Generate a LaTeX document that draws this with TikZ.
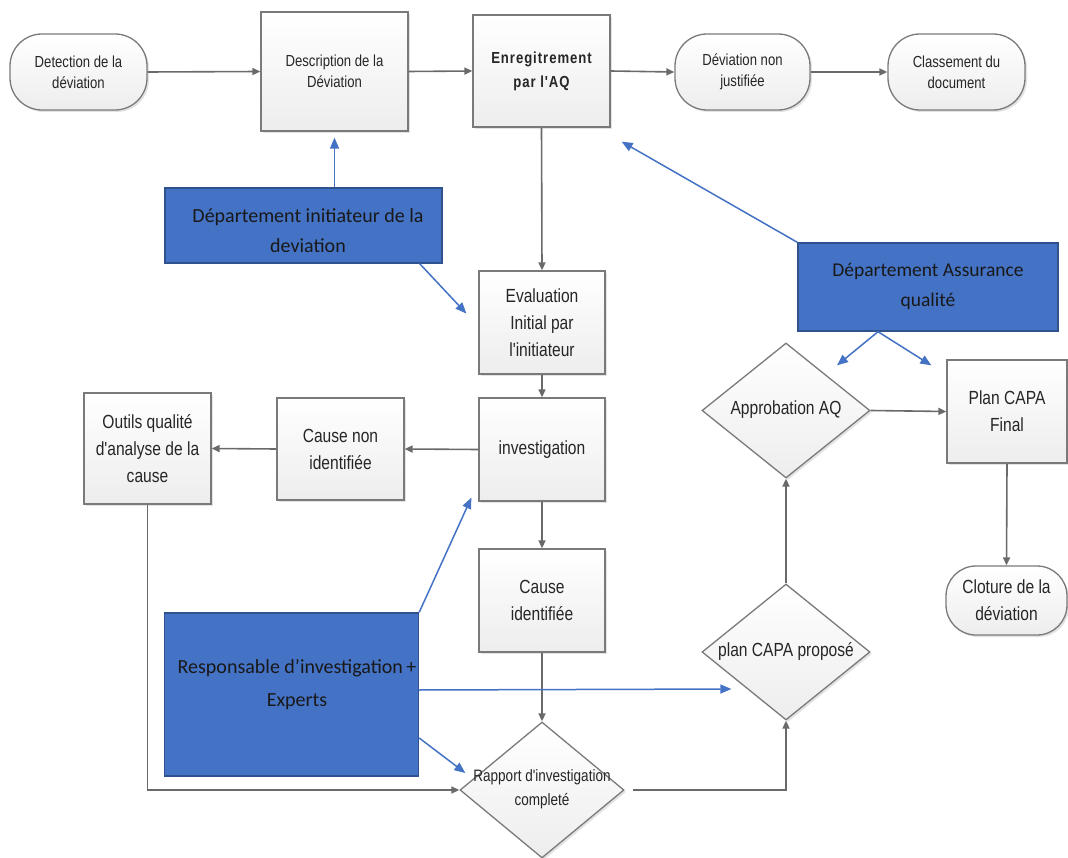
\documentclass[tikz,border=0pt]{standalone}
\usepackage{fontspec}
\setmainfont{Liberation Sans}[FakeStretch=0.82,Ligatures=TeXOff]
\newfontfamily\calfont{Carlito}
\newfontfamily\enrfont{Liberation Sans}[FakeStretch=0.82,LetterSpace=6,Ligatures=TeXOff]
\usetikzlibrary{shapes.geometric,arrows.meta,shadows,calc}
\definecolor{lineg}{HTML}{6A6A6A}
\definecolor{boxb}{HTML}{7A7A7A}
\definecolor{qblue}{HTML}{4472C4}
\definecolor{qbluedk}{HTML}{2F528F}
\definecolor{txtg}{HTML}{262626}
\tikzset{
  base/.style={draw=boxb, line width=1.3pt, top color=white, bottom color=gray!14,
    drop shadow={shadow xshift=2pt, shadow yshift=-2pt, opacity=0.22, fill=gray},
    text=txtg, align=center, inner sep=0pt},
  box/.style={base, rectangle},
  pill/.style={base, rectangle, rounded corners=32pt},
  dia/.style={base, diamond},
  smalltxt/.style={font=\fontsize{16}{21}\selectfont},
  bigtxt/.style={font=\fontsize{19}{27}\selectfont},
  bluebox/.style={rectangle, fill=qblue, draw=qbluedk, line width=1.4pt, inner sep=0pt},
  bluetxt/.style={align=center, text=black!90, inner sep=0pt, font=\calfont\fontsize{19.5}{30}\selectfont},
  dtxt/.style={align=center, text=txtg, inner sep=0pt},
  garrow/.style={draw=lineg, line width=1.6pt, -{Triangle[length=8pt,width=7pt]}},
  barrow/.style={draw=qblue, line width=1.5pt, -{Triangle[length=11pt,width=9pt]}},
}
\begin{document}
\begin{tikzpicture}[x=1pt,y=-1pt]
\fill[white] (0,0) rectangle (1068,858);
\useasboundingbox (0,0) rectangle (1068,858);

% top row
\node[pill, smalltxt, minimum width=137pt, minimum height=76pt] (det) at (78.5,72) {Detection de la\\déviation};
\node[box, smalltxt, minimum width=147pt, minimum height=119pt] (desc) at (334.5,71.5) {Description de la\\Déviation};
\node[box, font=\enrfont\bfseries\fontsize{16}{24}\selectfont, minimum width=137pt, minimum height=112pt] (enr) at (541.5,71) {Enregitrement\\par l'AQ};
\node[pill, smalltxt, minimum width=135pt, minimum height=76pt] (dnj) at (742.5,72) {Déviation non\\justifiée};
\node[pill, smalltxt, minimum width=137pt, minimum height=76pt] (cls) at (956.5,72) {Classement du\\document};

% central column
\node[box, bigtxt, minimum width=126pt, minimum height=103pt] (eval) at (542,322.5) {Evaluation\\Initial par\\l'initiateur};
\node[box, bigtxt, minimum width=126pt, minimum height=103pt] (inv) at (542,449.5) {investigation};
\node[box, bigtxt, minimum width=127pt, minimum height=102pt] (cni) at (340.5,449) {Cause non\\identifiée};
\node[box, bigtxt, minimum width=127pt, minimum height=111pt] (out) at (147.5,448.5) {Outils qualité\\d'analyse de la\\cause};
\node[box, bigtxt, minimum width=126pt, minimum height=103pt] (cid) at (542,600.5) {Cause\\identifiée};

% diamonds
\node[dia, minimum width=164pt, minimum height=136pt] (rap) at (542,790) {};
\node[dtxt, font=\fontsize{16.5}{24}\selectfont] (rapT) at (542,789) {Rapport d'investigation\\completé};
\node[dia, minimum width=168pt, minimum height=136pt] (plan) at (786,652) {};
\node[dtxt, font=\fontsize{19}{27}\selectfont] (planT) at (786,651) {plan CAPA proposé};
\node[dia, minimum width=168pt, minimum height=135pt] (appr) at (786,410.5) {};
\node[dtxt, font=\fontsize{19}{27}\selectfont] (apprT) at (786,410) {Approbation AQ};

% right column
\node[box, bigtxt, minimum width=120pt, minimum height=103pt] (pcf) at (1007,411.5) {Plan CAPA\\Final};
\node[base, rectangle, bigtxt, rounded corners=30pt, minimum width=121pt, minimum height=69pt] (clo) at (1006.5,600.5) {Cloture de la\\déviation};

% blue boxes
\node[bluebox, minimum width=277pt, minimum height=75pt] (dini) at (303.5,225.5) {};
\node[bluetxt, font=\calfont\fontsize{20}{30}\selectfont] (diniT) at (308,231) {Département initiateur de la\\deviation};
\node[bluebox, minimum width=260pt, minimum height=88pt] (daq) at (928,287) {};
\node[bluetxt] (daqT) at (928,286) {Département Assurance\\qualité};
\node[bluebox, minimum width=254pt, minimum height=163pt] (resp) at (291.5,694.5) {};
\node[bluetxt, font=\calfont\fontsize{20}{33}\selectfont] (respT) at (297,685) {Responsable d’investigation\,+\\Experts};

% gray connectors
\draw[garrow] (det.east) -- (desc.west);
\draw[garrow] (desc.east) -- (enr.west);
\draw[garrow] (enr.east) -- (dnj.west);
\draw[garrow] (dnj.east) -- (cls.west);
\draw[garrow] (enr.south) -- (eval.north);
\draw[garrow] (eval.south) -- (inv.north);
\draw[garrow] (inv.west) -- (cni.east);
\draw[garrow] (cni.west) -- (out.east);
\draw[garrow] (inv.south) -- (cid.north);
\draw[garrow] (cid.south) -- (rap.north);
\draw[garrow] (out.south) |- (rap.west);
\draw[garrow, shorten <=8pt] (rap.east) -| (plan.south);
\draw[garrow] (plan.north) -- (appr.south);
\draw[garrow] (appr.east) -- (pcf.west);
\draw[garrow] (pcf.south) -- (clo.north);

% blue connectors
\draw[barrow] (desc.south |- dini.north) -- ([yshift=-6pt]desc.south);
\draw[barrow] ([xshift=-23pt]dini.south east) -- ([xshift=-12pt,yshift=9pt]eval.west);
\draw[barrow] (daq.north west) -- ([xshift=11pt,yshift=-14pt]enr.south east);
\draw[barrow] ([xshift=-50pt]daq.south) -- ([xshift=51pt,yshift=-23pt]appr.north);
\draw[barrow] ([xshift=-50pt]daq.south) -- ([xshift=-15pt,yshift=-6pt]pcf.north west);
\draw[barrow] (resp.north east) -- ([xshift=-7pt,yshift=4pt]inv.south west);
\draw[barrow] ([yshift=4.5pt]resp.east) -- ([xshift=30pt,yshift=-37pt]plan.west);
\draw[barrow] ([yshift=-43.5pt]resp.east) -- ([xshift=6pt,yshift=17pt]rap.west);
\end{tikzpicture}
\end{document}
